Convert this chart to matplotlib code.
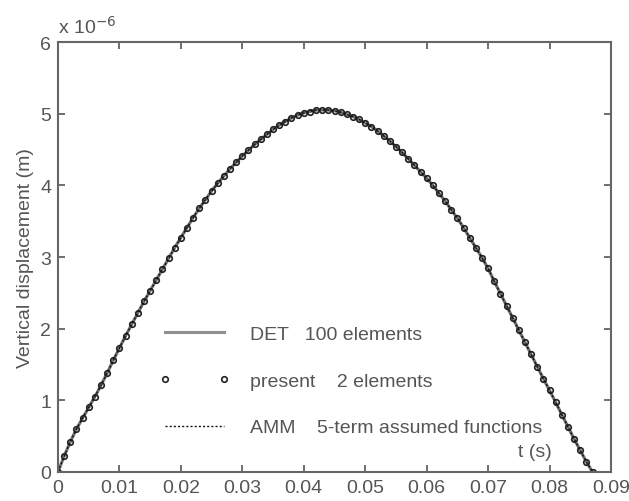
import numpy as np
import matplotlib
matplotlib.use("Agg")
import matplotlib.pyplot as plt

plt.rcParams['font.family'] = ['Liberation Sans', 'DejaVu Sans']

# time in s, displacement in units of 1e-6 m
t_ms = np.arange(0, 88)
t = t_ms / 1000.0
y = [0.00, 0.22, 0.42, 0.60, 0.75, 0.90, 1.05, 1.21, 1.38, 1.56,
     1.73, 1.90, 2.06, 2.22, 2.38, 2.53, 2.68, 2.83, 2.98, 3.13,
     3.27, 3.41, 3.55, 3.68, 3.80, 3.92, 4.03, 4.13, 4.23, 4.32,
     4.41, 4.49, 4.57, 4.64, 4.71, 4.78, 4.84, 4.89, 4.94, 4.98,
     5.01, 5.03, 5.05, 5.05, 5.05, 5.04, 5.02, 4.99, 4.96, 4.92,
     4.87, 4.82, 4.76, 4.69, 4.62, 4.54, 4.46, 4.37, 4.28, 4.19,
     4.10, 4.00, 3.89, 3.78, 3.66, 3.54, 3.41, 3.27, 3.13, 2.99,
     2.84, 2.66, 2.49, 2.32, 2.15, 1.98, 1.81, 1.64, 1.47, 1.30,
     1.14, 0.97, 0.80, 0.63, 0.46, 0.30, 0.14, 0.00]
y_det = y
y_amm = y
y_present = y

xticks = [0, 0.01, 0.02, 0.03, 0.04, 0.05, 0.06, 0.07, 0.08, 0.09]
xticklabels = ['0', '0.01', '0.02', '0.03', '0.04', '0.05', '0.06', '0.07', '0.08', '0.09']
yticks = [0, 1, 2, 3, 4, 5, 6]

fig = plt.figure(figsize=(6.29, 5.02), dpi=100)
ax = fig.add_axes([0.0922, 0.0578, 0.8792, 0.8565])

ax.plot(t, y_det, color='#707070', lw=2.2, label='DET   100 elements')
ax.plot(t, y_present, ls='none', marker='o', ms=4, mfc='none', mec='#222222', mew=1.2,
        label='present    2 elements')
ax.plot(t, y_amm, color='#111111', lw=1.0, ls=(0, (1.5, 1.5)),
        label='AMM    5-term assumed functions')

ax.set_xlim(0, 0.09)
ax.set_ylim(0, 6)
ax.set_xticks(xticks)
ax.set_xticklabels(xticklabels)
ax.set_yticks(yticks)
ax.tick_params(direction='in', length=5, width=1.2, top=True, right=True,
               labelsize=14, colors='#555555', pad=5)
for s in ax.spines.values():
    s.set_color('#666666')
    s.set_linewidth(1.5)

ax.set_ylabel('Vertical displacement (m)', fontsize=14, color='#555555', labelpad=4)
ax.text(0.862, 0.047, 't (s)', transform=ax.transAxes, fontsize=14, color='#555555',
        ha='center', va='center')
ax.text(0.0, 1.012, 'x 10$^{-6}$', transform=ax.transAxes, fontsize=14, color='#555555',
        ha='left', va='bottom')

leg = ax.legend(loc='upper left', bbox_to_anchor=(0.152, 0.382), frameon=False,
                fontsize=14, handlelength=3.6, handletextpad=1.05, labelspacing=1.5,
                numpoints=2)
leg.get_lines()[0].set_color('#909090')
for txt in leg.get_texts():
    txt.set_color('#555555')

fig.savefig('out.png', dpi=100)
